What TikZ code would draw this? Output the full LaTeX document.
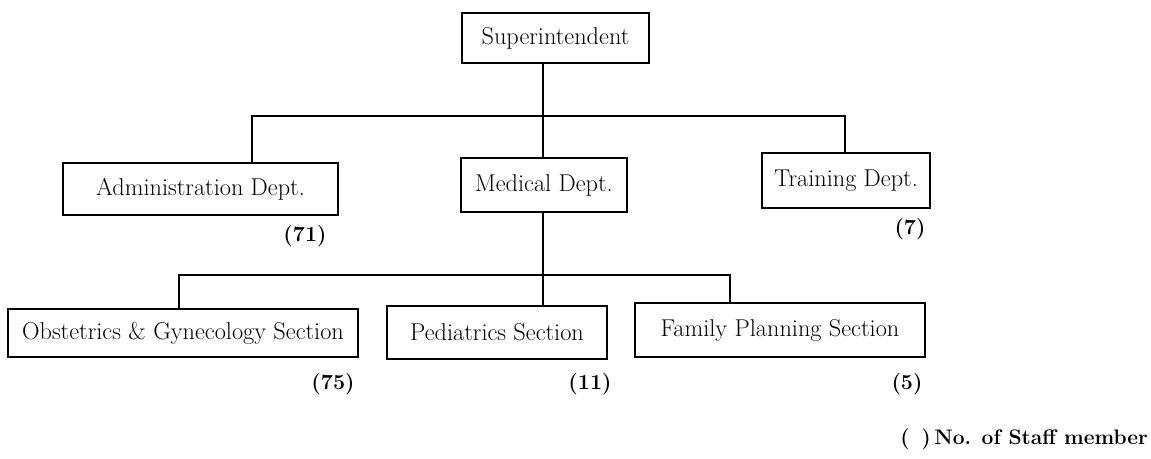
\documentclass[tikz,border=0pt]{standalone}
\begin{document}
\begin{tikzpicture}[x=1pt,y=-1pt,
  box/.style={draw, line width=1.6pt, inner sep=0pt, align=center, font=\fontsize{24.3}{28}\selectfont},
  cnt/.style={inner sep=0pt, font=\bfseries\fontsize{21.5}{25}\selectfont},
  conn/.style={line width=1.8pt}]
\useasboundingbox (0,0) rectangle (1151,458);
\node[box, minimum width=187pt, minimum height=50pt] (sup) at (555.5,38) {Superintendent};
\node[box, minimum width=275pt, minimum height=52pt] (adm) at (200.5,189) {Administration Dept.};
\node[box, minimum width=166pt, minimum height=54pt] (med) at (544,185) {Medical Dept.};
\node[box, minimum width=168pt, minimum height=55pt] (trn) at (846,180.5) {Training Dept.};
\node[box, minimum width=350pt, minimum height=48pt] (obs) at (183,333) {Obstetrics \& Gynecology Section};
\node[box, minimum width=220pt, minimum height=53pt] (ped) at (497,332.5) {Pediatrics Section};
\node[box, minimum width=290pt, minimum height=54pt] (fam) at (780,330) {Family Planning Section};
\coordinate (j1) at (543,116);
\coordinate (aL) at (252,116);
\coordinate (aR) at (845,116);
\coordinate (j2) at (543,275);
\coordinate (bL) at (179,275);
\coordinate (bR) at (730,275);
\draw[conn] (sup.south -| j1) -- (med.north -| j1);
\draw[conn] (adm.north -| aL) -- (aL) -- (aR) -- (trn.north -| aR);
\draw[conn] (med.south -| j2) -- (ped.north -| j2);
\draw[conn] (obs.north -| bL) -- (bL) -- (bR) -- (fam.north -| bR);
\node[cnt] (n71) at (305,236) {(71)};
\node[cnt] (n7) at (910,229) {(7)};
\node[cnt] (n75) at (333,384) {(75)};
\node[cnt] (n11) at (590,384) {(11)};
\node[cnt] (n5) at (907,384) {(5)};
\node[cnt, anchor=east, font=\bfseries\fontsize{21}{25}\selectfont] (leg) at (1148,439) {(\hspace{12pt})\,No. of Staff member};
\end{tikzpicture}
\end{document}
